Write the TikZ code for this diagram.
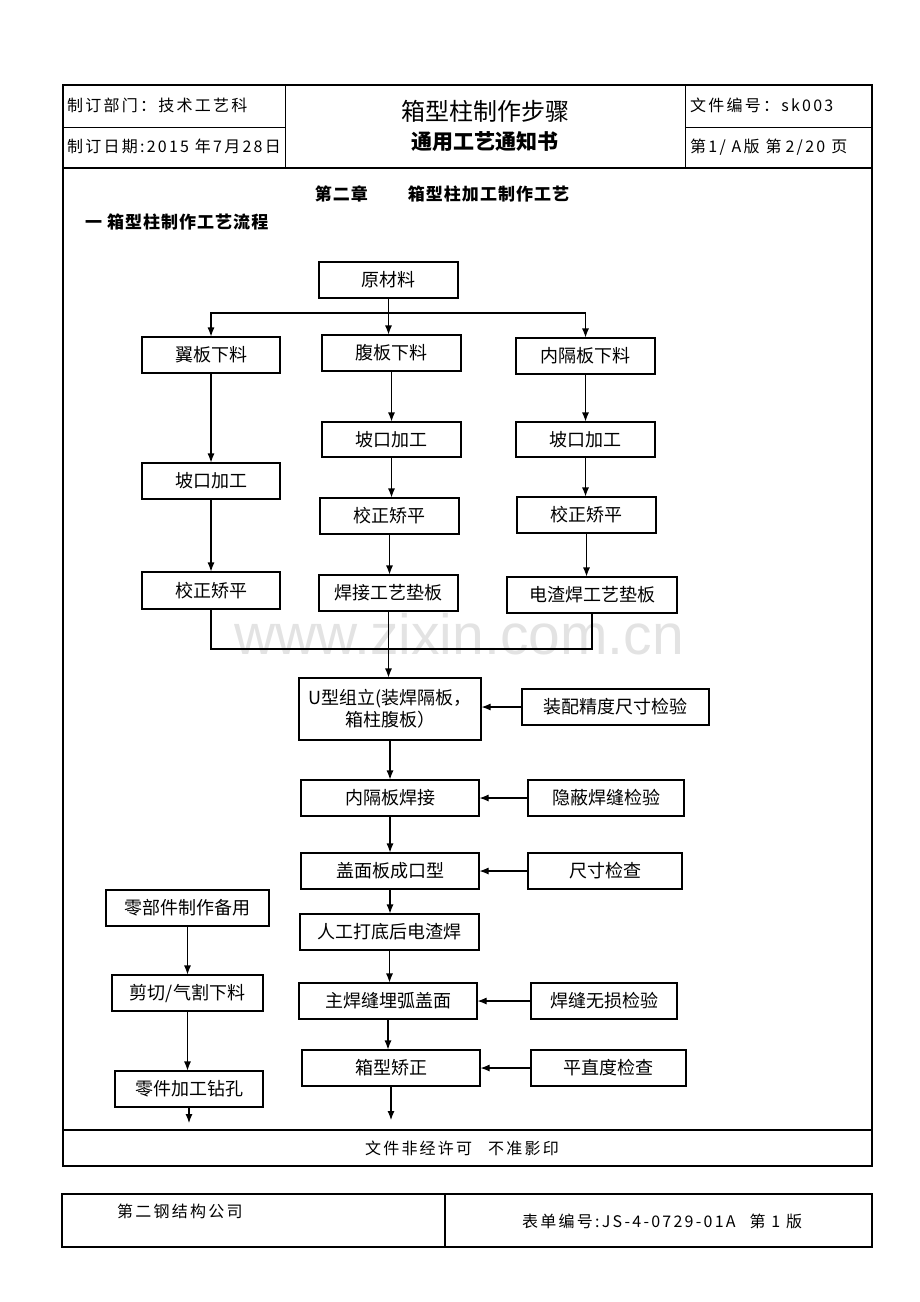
\documentclass[tikz,border=0pt]{standalone}
\usepackage{fontspec}
\setmainfont{Noto Sans CJK SC}
\newfontfamily\hdfont[LetterSpace=14]{Noto Sans CJK SC}
\newfontfamily\chfont[LetterSpace=6]{Noto Sans CJK SC}
\newfontfamily\wmfont{Liberation Sans}
\usetikzlibrary{arrows.meta}
\begin{document}
\begin{tikzpicture}[x=1pt,y=-1pt,
  box/.style={draw, line width=1.1pt, inner sep=0pt, align=center, font=\fontsize{18}{22}\selectfont},
  arr/.style={line width=1.1pt, -{Latex[length=9pt,width=7pt]}},
  ln/.style={line width=1.1pt},
  hd/.style={inner sep=0pt, font=\hdfont\fontsize{16}{18}\selectfont}
]
\useasboundingbox (0,0) rectangle (920,1302);
% watermark
\node[text=black!11, font=\wmfont\fontsize{57}{60}\selectfont, inner sep=0pt] (wm) at (459,634) {www.zixin.com.cn};

% page frame
\draw[line width=2pt] (63,85) rectangle (872,1166);
\draw[line width=1.2pt] (63,168) -- (872,168);
\draw[line width=1pt] (285,85) -- (285,168);
\draw[line width=1pt] (685,85) -- (685,168);
\draw[line width=1pt] (63,127) -- (285,127);
\draw[line width=1pt] (685,127) -- (872,127);
\draw[line width=1.2pt] (63,1130) -- (872,1130);

% header texts
\node[hd, anchor=west] (h1) at (67,105) {制订部门：技术工艺科};
\node[hd, anchor=west] (h2) at (67,146) {制订日期:2015 年7月28日};
\node[inner sep=0pt, font=\fontsize{24}{26}\selectfont] (h3) at (485,111) {箱型柱制作步骤};
\node[inner sep=0pt, font=\bfseries\fontsize{21}{23}\selectfont] (h4) at (485,142) {通用工艺通知书};
\node[hd, anchor=west] (h5) at (690,105) {文件编号：sk003};
\node[hd, anchor=west] (h6) at (690,147) {第1/ A版\hspace{6pt}第\hspace{4pt}2/20\hspace{6pt}页};

% chapter
\node[inner sep=0pt, font=\chfont\bfseries\fontsize{17}{19}\selectfont] (ch) at (442,194) {第二章\hspace{40pt}箱型柱加工制作工艺};
\node[inner sep=0pt, anchor=west, font=\chfont\bfseries\fontsize{17}{19}\selectfont] (sec) at (85,222) {一 箱型柱制作工艺流程};

% flow boxes
\node[box, minimum width=139, minimum height=36] (yuan) at (388.5,280) {原材料};
\node[box, minimum width=138, minimum height=36] (yiban) at (211,355) {翼板下料};
\node[box, minimum width=139, minimum height=36] (fuban) at (391.5,353) {腹板下料};
\node[box, minimum width=139, minimum height=36] (nei) at (585.5,356) {内隔板下料};
\node[box, minimum width=138, minimum height=36] (pk1) at (211,481) {坡口加工};
\node[box, minimum width=139, minimum height=35] (pk2) at (391.5,439.5) {坡口加工};
\node[box, minimum width=139, minimum height=35] (pk3) at (585.5,439.5) {坡口加工};
\node[box, minimum width=138, minimum height=37] (jz1) at (211,590.5) {校正矫平};
\node[box, minimum width=139, minimum height=36] (jz2) at (389.5,516) {校正矫平};
\node[box, minimum width=139, minimum height=36] (jz3) at (586.5,515) {校正矫平};
\node[box, minimum width=139, minimum height=36] (hj) at (388.5,593) {焊接工艺垫板};
\node[box, minimum width=170, minimum height=36] (dz) at (592,595) {电渣焊工艺垫板};
\node[box, minimum width=182, minimum height=62] (U) at (390,709) {U型组立(装焊隔板，\\箱柱腹板）};
\node[box, minimum width=187, minimum height=36] (zp) at (615.5,707) {装配精度尺寸检验};
\node[box, minimum width=178, minimum height=36] (ngh) at (390,798) {内隔板焊接};
\node[box, minimum width=156, minimum height=36] (yb) at (606,798) {隐蔽焊缝检验};
\node[box, minimum width=178, minimum height=36] (gm) at (390,871) {盖面板成口型};
\node[box, minimum width=154, minimum height=36] (cc) at (605,871) {尺寸检查};
\node[box, minimum width=179, minimum height=36] (rg) at (389.5,932) {人工打底后电渣焊};
\node[box, minimum width=178, minimum height=36] (zh) at (388,1001) {主焊缝埋弧盖面};
\node[box, minimum width=146, minimum height=36] (hf) at (604,1001) {焊缝无损检验};
\node[box, minimum width=178, minimum height=36] (xx) at (391,1068) {箱型矫正};
\node[box, minimum width=155, minimum height=36] (pz) at (608.5,1068) {平直度检查};
\node[box, minimum width=163, minimum height=36] (lb) at (187.5,908) {零部件制作备用};
\node[box, minimum width=151, minimum height=36] (jq) at (187.5,993) {剪切/气割下料};
\node[box, minimum width=148, minimum height=36] (lj) at (189,1089) {零件加工钻孔};

% connectors
\coordinate (br) at (388.5,313);
\draw[arr] (yuan.south) -- (yuan.south |- fuban.north);
\draw[arr] (br) -| (yiban.north);
\draw[arr] (br) -| (nei.north);
\draw[arr] (yiban.south) -- (pk1.north);
\draw[arr] (pk1.south) -- (jz1.north);
\draw[arr] (fuban.south) -- (fuban.south |- pk2.north);
\draw[arr] (pk2.south) -- (pk2.south |- jz2.north);
\draw[arr] (jz2.south) -- (jz2.south |- hj.north);
\draw[arr] (nei.south) -- (nei.south |- pk3.north);
\draw[arr] (pk3.south) -- (pk3.south |- jz3.north);
\draw[arr] (jz3.south) -- (jz3.south |- dz.north);
\coordinate (mg) at (389.5,649);
\draw[ln] (jz1.south) |- (mg) -| (dz.south);
\draw[arr] (hj.south) -- (hj.south |- U.north);
\draw[arr] (zp.west) -- (zp.west -| U.east);
\draw[arr] (U.south) -- (ngh.north);
\draw[arr] (ngh.south) -- (gm.north);
\draw[arr] (gm.south) -- (gm.south |- rg.north);
\draw[arr] (rg.south) -- (rg.south |- zh.north);
\draw[arr] (zh.south) -- (zh.south |- xx.north);
\draw[arr] (yb.west) -- (yb.west -| ngh.east);
\draw[arr] (cc.west) -- (cc.west -| gm.east);
\draw[arr] (hf.west) -- (hf.west -| zh.east);
\draw[arr] (pz.west) -- (pz.west -| xx.east);
\coordinate (xxend) at (391,1120);
\draw[arr] (xx.south) -- (xxend);
\draw[arr] (lb.south) -- (lb.south |- jq.north);
\draw[arr] (jq.south) -- (jq.south |- lj.north);
\coordinate (ljend) at (189,1123);
\draw[arr] (lj.south) -- (ljend);

% footer
\node[hd] (ft) at (462,1148) {文件非经许可\hspace{16pt}不准影印};
\draw[line width=2pt] (62,1194) rectangle (872,1247);
\draw[line width=1.5pt] (445,1194) -- (445,1247);
\node[hd, anchor=west] (co) at (117,1211) {第二钢结构公司};
\node[hd, anchor=west] (fm) at (522,1221) {表单编号:JS-4-0729-01A\hspace{14pt}第 1 版};
\end{tikzpicture}
\end{document}
